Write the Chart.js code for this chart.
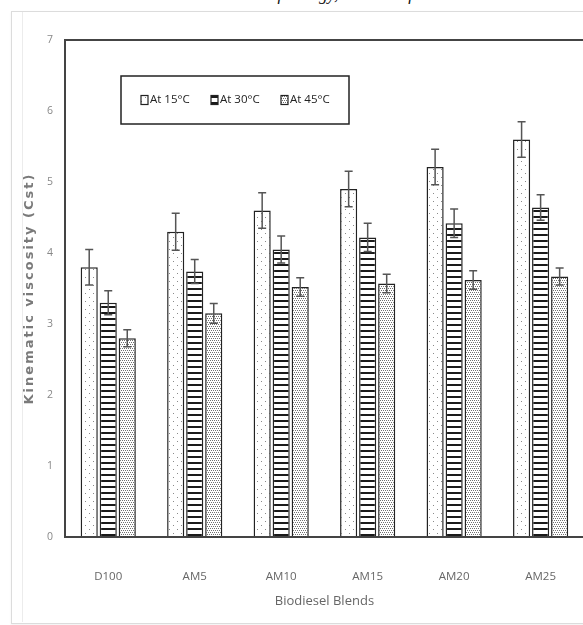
<!DOCTYPE html>
<html>
<head>
<meta charset="utf-8">
<script src="https://cdn.jsdelivr.net/npm/chart.js@4.4.1/dist/chart.umd.min.js"></script>
<style>
  html, body { margin: 0; padding: 0; background: #fff; overflow: hidden; }
  #wrap { position: relative; width: 583px; height: 625px; overflow: hidden; }
  .frame { position: absolute; left: 11px; top: 11px; width: 600px; height: 611px; border: 1px solid #dcdcdc; box-shadow: 0 1px 2px rgba(0,0,0,0.06); }
  .inner { position: absolute; left: 22px; top: 12px; width: 1px; height: 610px; background: #ececec; }
  .cut { position: absolute; left: 228px; top: -15px; font: italic 17px "Liberation Serif", serif; color: #111; white-space: nowrap; }
  canvas { position: absolute; left: 0; top: 0; }
</style>
</head>
<body>
<div id="wrap">
  <div class="cut">urnal of Energy, Journal of Resear</div>
  <div class="frame"></div>
  <div class="inner"></div>
  <canvas id="chart" width="589" height="625"></canvas>
</div>
<script>
// Data
const categories = ['D100', 'AM5', 'AM10', 'AM15', 'AM20', 'AM25'];
const seriesNames = ['At 15°C', 'At 30°C', 'At 45°C'];
const at15 = [3.80, 4.30, 4.60, 4.90, 5.21, 5.60];
const at30 = [3.30, 3.74, 4.05, 4.22, 4.42, 4.64];
const at45 = [2.80, 3.15, 3.52, 3.57, 3.62, 3.67];
const err15 = [0.25, 0.26, 0.25, 0.25, 0.25, 0.25];
const err30 = [0.17, 0.17, 0.19, 0.20, 0.20, 0.18];
const err45 = [0.12, 0.14, 0.13, 0.13, 0.13, 0.12];
const yTicks = [0, 1, 2, 3, 4, 5, 6, 7];
const yTitle = 'Kinematic viscosity (Cst)';

// Hatch fills like the original Excel patterns
function makePattern(kind) {
    const c = document.createElement('canvas');
    const g = c.getContext('2d');
    if (kind === 'sparse') {
        c.width = 8; c.height = 8;
        g.fillStyle = '#fff'; g.fillRect(0, 0, 8, 8);
        g.fillStyle = '#8a8a8a';
        g.fillRect(1, 1, 1, 1);
        g.fillRect(5, 5, 1, 1);
    } else if (kind === 'stripes') {
        c.width = 6; c.height = 6;
        g.fillStyle = '#fff'; g.fillRect(0, 0, 6, 6);
        g.fillStyle = '#1a1a1a'; g.fillRect(0, 0, 6, 2);
    } else {
        c.width = 4; c.height = 4;
        g.fillStyle = '#fff'; g.fillRect(0, 0, 4, 4);
        g.fillStyle = '#707070';
        g.fillRect(0, 0, 1, 1); g.fillRect(2, 0, 1, 1);
        g.fillRect(1, 2, 1, 1); g.fillRect(3, 2, 1, 1);
    }
    return g.createPattern(c, 'repeat');
}

const fills = [makePattern('sparse'), makePattern('stripes'), makePattern('dense')];

// Error bars drawn from the y scale
const errorBars = {
    id: 'errorBars',
    afterDatasetsDraw(chart) {
        const ctx = chart.ctx;
        const y = chart.scales.y;
        chart.data.datasets.forEach((ds, i) => {
            const meta = chart.getDatasetMeta(i);
            meta.data.forEach((bar, j) => {
                const v = ds.data[j], e = ds.errors[j];
                const top = y.getPixelForValue(v + e);
                const bot = y.getPixelForValue(v - e);
                ctx.save();
                ctx.strokeStyle = '#555';
                ctx.lineWidth = 1.5;
                ctx.beginPath();
                ctx.moveTo(bar.x, top); ctx.lineTo(bar.x, bot);
                ctx.moveTo(bar.x - 4, top); ctx.lineTo(bar.x + 4, top);
                ctx.moveTo(bar.x - 4, bot); ctx.lineTo(bar.x + 4, bot);
                ctx.stroke();
                ctx.restore();
            });
        });
    }
};

// Boxed legend inside the plot, plus the spaced-out y title
const boxLegend = {
    id: 'boxLegend',
    afterDraw(chart) {
        const ctx = chart.ctx;
        const a = chart.chartArea;
        const bx = a.left + 56, by = a.top + 36, bw = 228, bh = 48;
        ctx.save();
        ctx.strokeStyle = '#222';
        ctx.lineWidth = 1.5;
        ctx.strokeRect(bx, by, bw, bh);
        ctx.font = '11.5px "Open Sans"';
        ctx.textBaseline = 'middle';
        chart.data.datasets.forEach((ds, i) => {
            const x = bx + 20 + i * 70;
            const cy = by + bh / 2;
            ctx.fillStyle = ds.backgroundColor;
            ctx.fillRect(x, cy - 4.5, 7, 9);
            ctx.strokeStyle = '#222';
            ctx.lineWidth = 1.2;
            ctx.strokeRect(x, cy - 4.5, 7, 9);
            ctx.fillStyle = '#222';
            ctx.fillText(ds.label, x + 9, cy);
        });
        ctx.restore();

        ctx.save();
        ctx.translate(30, (a.top + a.bottom) / 2);
        ctx.rotate(-Math.PI / 2);
        ctx.font = 'bold 13px "DejaVu Sans"';
        ctx.letterSpacing = '2px';
        ctx.fillStyle = '#7a7a7a';
        ctx.textAlign = 'center';
        ctx.textBaseline = 'middle';
        ctx.fillText(yTitle, 0, 0);
        ctx.restore();
    }
};

new Chart(document.getElementById('chart'), {
    type: 'bar',
    data: {
        labels: categories,
        datasets: [at15, at30, at45].map((vals, i) => ({
            label: seriesNames[i],
            data: vals,
            errors: [err15, err30, err45][i],
            backgroundColor: fills[i],
            borderColor: '#222',
            borderWidth: 1.5,
            categoryPercentage: 0.66,
            barPercentage: 0.9
        }))
    },
    options: {
        responsive: false,
        animation: false,
        layout: { padding: { left: 0, right: 0, top: 40, bottom: 0 } },
        plugins: {
            legend: { display: false },
            tooltip: { enabled: false }
        },
        scales: {
            x: {
                grid: { display: false, drawTicks: false },
                border: { color: '#444', width: 2 },
                ticks: { color: '#666', font: { family: 'Open Sans', size: 11.5 }, padding: 33 },
                title: {
                    display: true,
                    text: 'Biodiesel Blends',
                    color: '#666',
                    font: { family: 'Open Sans', size: 13 },
                    padding: { top: 0, bottom: 16 }
                },
                afterFit(scale) { scale.height = 88; }
            },
            y: {
                min: 0,
                max: 7,
                afterBuildTicks(scale) { scale.ticks = yTicks.map(v => ({ value: v })); },
                grid: {
                    drawTicks: false,
                    color: ctx => ctx.tick && ctx.tick.value === 7 ? '#444' : 'transparent',
                    lineWidth: 2
                },
                border: { color: '#444', width: 2 },
                ticks: { color: '#888', font: { family: 'Open Sans', size: 10.5 }, padding: 12 },
                afterFit(scale) { scale.width = 65; }
            }
        }
    },
    plugins: [errorBars, boxLegend]
});
</script>
</body>
</html>
